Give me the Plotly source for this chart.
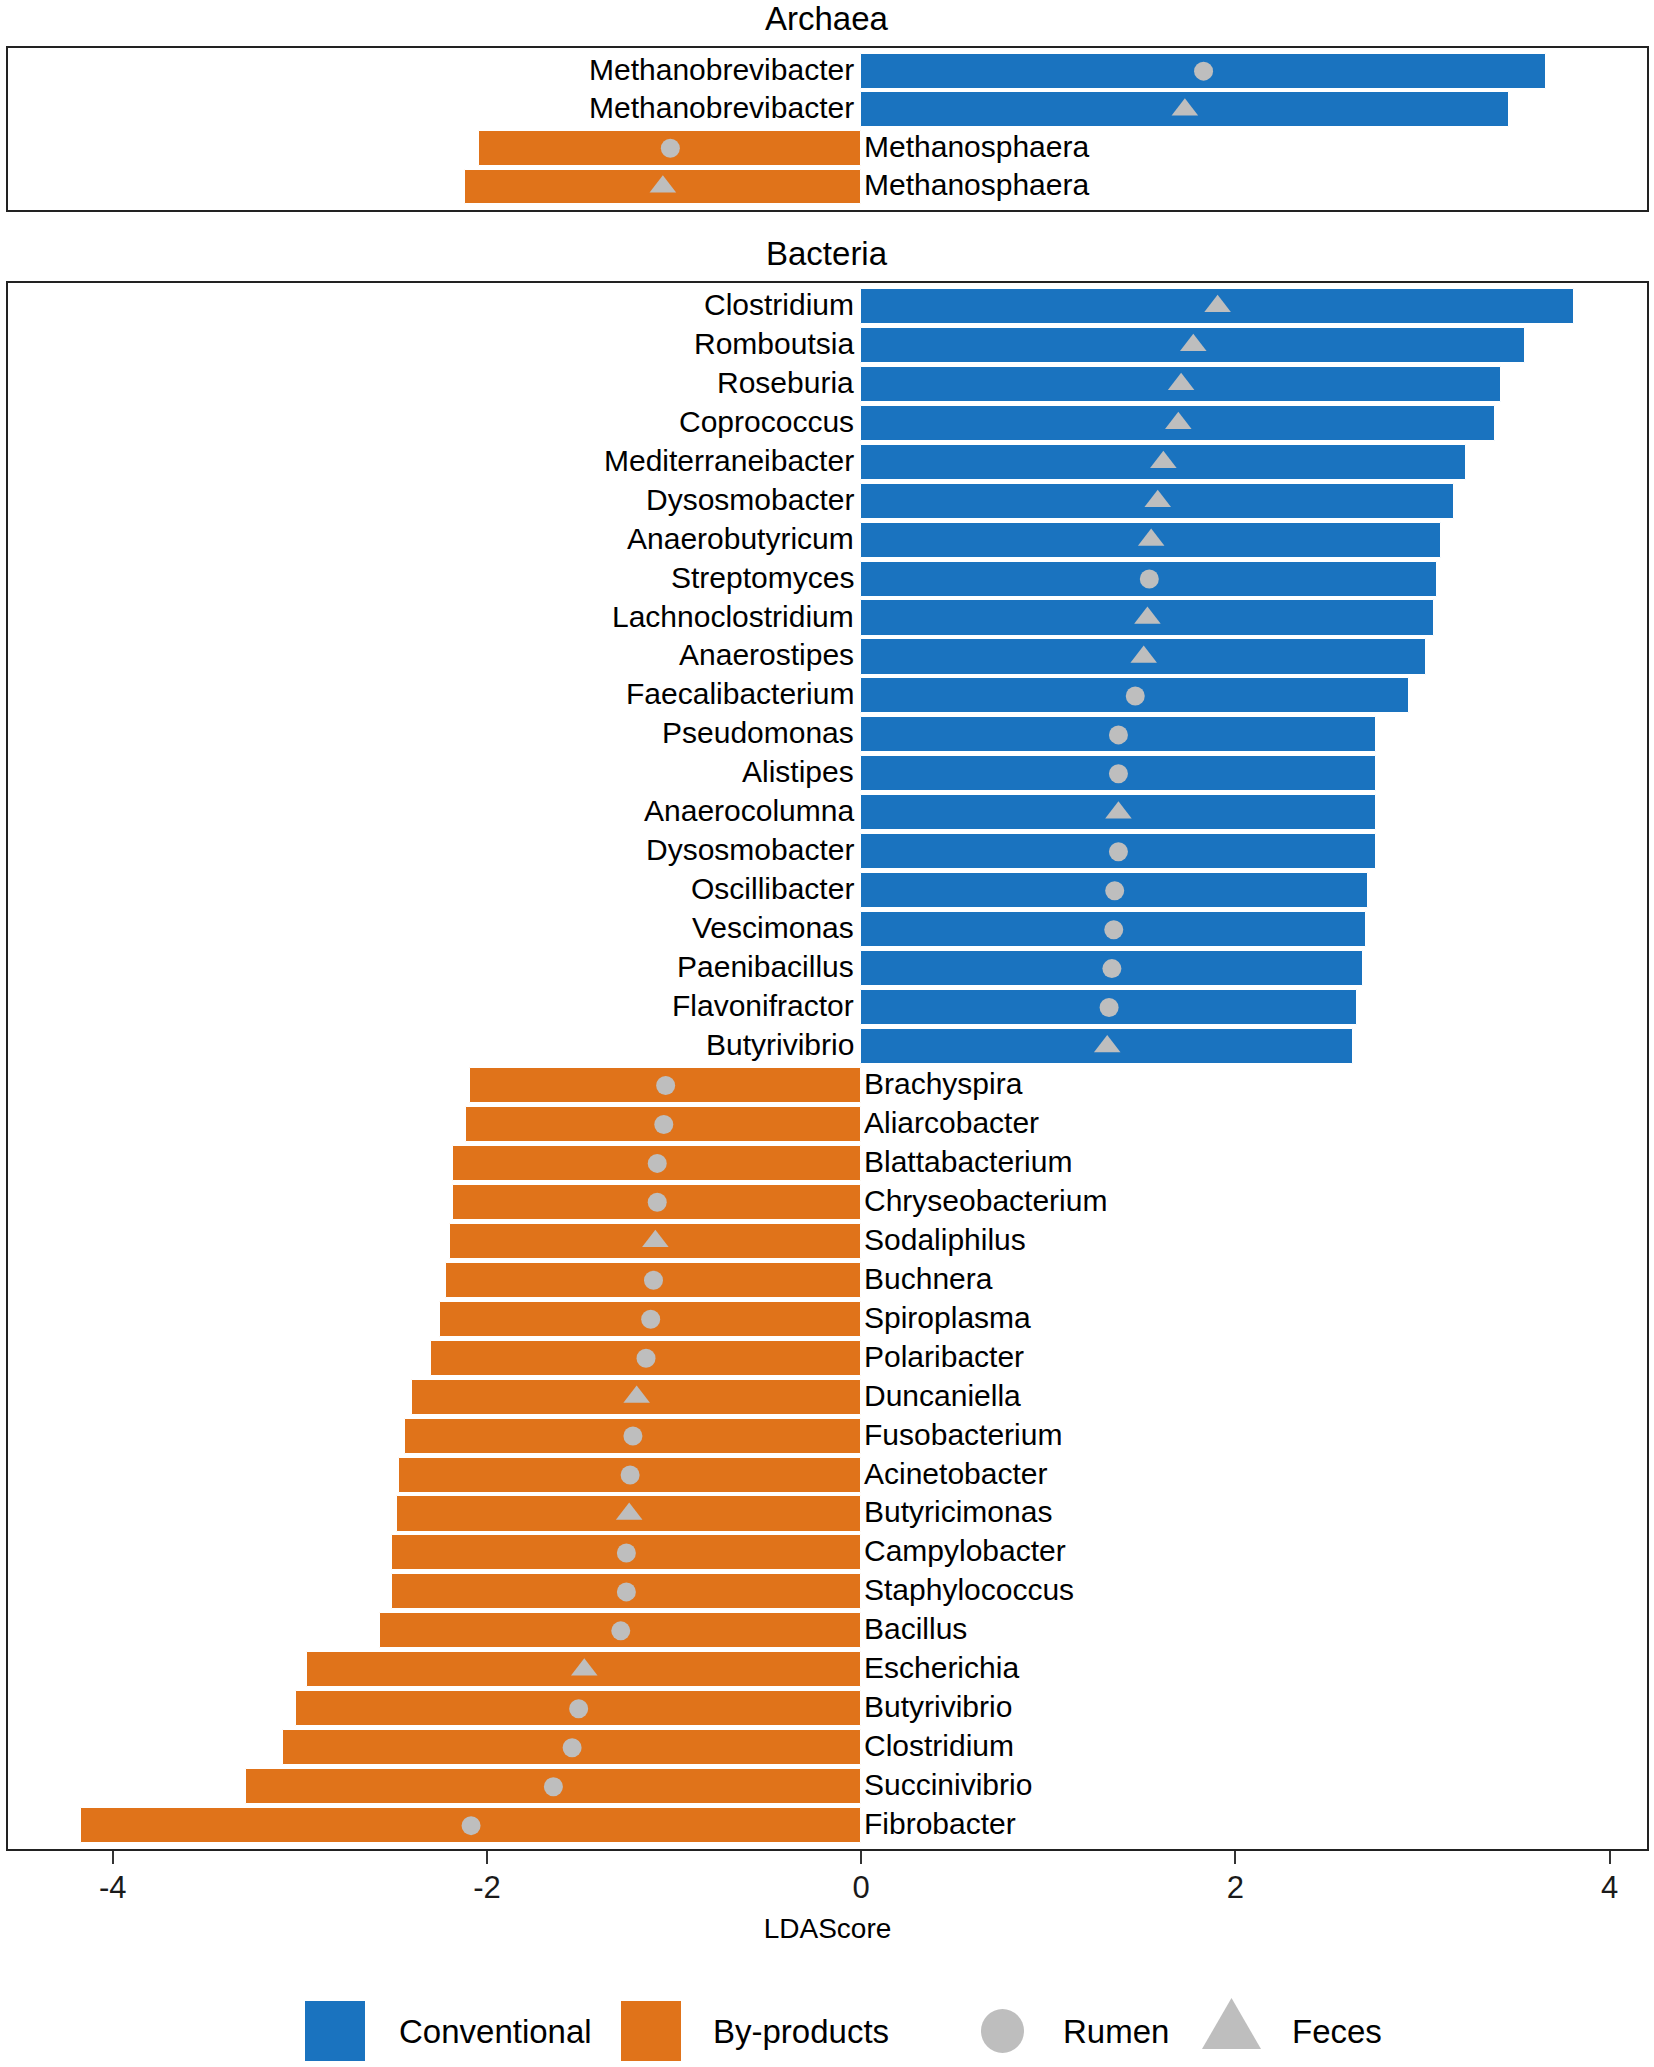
import plotly.graph_objects as go
from plotly.subplots import make_subplots

# ---- data (top to bottom within each panel) ----
archaea_genus = ["Methanobrevibacter", "Methanobrevibacter", "Methanosphaera", "Methanosphaera"]
archaea_lda = [3.66, 3.46, -2.04, -2.12]
archaea_site = ["Rumen", "Feces", "Rumen", "Feces"]

bacteria_genus = [
    "Clostridium", "Romboutsia", "Roseburia", "Coprococcus", "Mediterraneibacter",
    "Dysosmobacter", "Anaerobutyricum", "Streptomyces", "Lachnoclostridium", "Anaerostipes",
    "Faecalibacterium", "Pseudomonas", "Alistipes", "Anaerocolumna", "Dysosmobacter",
    "Oscillibacter", "Vescimonas", "Paenibacillus", "Flavonifractor", "Butyrivibrio",
    "Brachyspira", "Aliarcobacter", "Blattabacterium", "Chryseobacterium", "Sodaliphilus",
    "Buchnera", "Spiroplasma", "Polaribacter", "Duncaniella", "Fusobacterium",
    "Acinetobacter", "Butyricimonas", "Campylobacter", "Staphylococcus", "Bacillus",
    "Escherichia", "Butyrivibrio", "Clostridium", "Succinivibrio", "Fibrobacter",
]
bacteria_lda = [
    3.81, 3.55, 3.42, 3.39, 3.23, 3.17, 3.10, 3.08, 3.06, 3.02,
    2.93, 2.75, 2.75, 2.75, 2.75, 2.71, 2.70, 2.68, 2.65, 2.63,
    -2.09, -2.11, -2.18, -2.18, -2.20, -2.22, -2.25, -2.30, -2.40, -2.44,
    -2.47, -2.48, -2.51, -2.51, -2.57, -2.96, -3.02, -3.09, -3.29, -4.17,
]
bacteria_site = [
    "Feces", "Feces", "Feces", "Feces", "Feces", "Feces", "Feces", "Rumen", "Feces", "Feces",
    "Rumen", "Rumen", "Rumen", "Feces", "Rumen", "Rumen", "Rumen", "Rumen", "Rumen", "Feces",
    "Rumen", "Rumen", "Rumen", "Rumen", "Feces", "Rumen", "Rumen", "Rumen", "Feces", "Rumen",
    "Rumen", "Feces", "Rumen", "Rumen", "Rumen", "Feces", "Rumen", "Rumen", "Rumen", "Rumen",
]

tick_vals = [-4, -2, 0, 2, 4]
tick_text = ["-4", "-2", "0", "2", "4"]

diet_names = ["Conventional", "By-products"]
diet_colors = ["#1a73bf", "#e0731a"]
site_names = ["Rumen", "Feces"]
site_symbols = {"Rumen": "circle", "Feces": "triangle-up"}
site_sizes = {"Rumen": 19, "Feces": 23}
point_color = "#bebebe"

W, H = 1654, 2067
FONT = "Liberation Sans, Arial, sans-serif"


def px_x(p):
    return p / W


def px_y(p):
    return 1 - p / H


fig = make_subplots(rows=2, cols=1, shared_xaxes=False)

panels = [
    (1, archaea_genus, archaea_lda, archaea_site),
    (2, bacteria_genus, bacteria_lda, bacteria_site),
]

annotations = []
for row, genus, lda, site in panels:
    idx = list(range(len(genus)))
    colors = [diet_colors[0] if v > 0 else diet_colors[1] for v in lda]
    fig.add_trace(go.Bar(
        x=lda, y=idx, orientation="h", width=0.9,
        marker=dict(color=colors, line=dict(color="white", width=1)),
        showlegend=False, hoverinfo="skip",
    ), row=row, col=1)
    # points at the middle of each bar
    for s in site_names:
        sel = [i for i in idx if site[i] == s]
        fig.add_trace(go.Scatter(
            x=[lda[i] / 2 for i in sel], y=sel, mode="markers",
            marker=dict(symbol=site_symbols[s], size=site_sizes[s], color=point_color),
            showlegend=False, hoverinfo="skip",
        ), row=row, col=1)
    # genus labels next to the zero line
    xref = "x" if row == 1 else "x2"
    yref = "y" if row == 1 else "y2"
    for i in idx:
        right = lda[i] > 0
        annotations.append(dict(
            text=genus[i], x=0, y=i, xref=xref, yref=yref, showarrow=False,
            xanchor="right" if right else "left", yanchor="middle",
            xshift=-5 if right else 1, yshift=2,
            font=dict(size=30, color="black", family=FONT),
        ))

xr = [-4.56, 4.20]
axis_line = dict(showline=True, mirror=True, linecolor="#222222", linewidth=2,
                 showgrid=False, zeroline=False)

fig.update_xaxes(range=xr, domain=[px_x(8), px_x(1647)], **axis_line)
fig.update_xaxes(showticklabels=False, ticks="", row=1, col=1)
fig.update_xaxes(
    tickvals=tick_vals, ticktext=tick_text, ticks="outside", ticklen=13, tickwidth=2,
    tickcolor="#333333", tickfont=dict(size=31, color="#1a1a1a", family=FONT),
    ticklabelstandoff=-3,
    title=dict(text="LDAScore", font=dict(size=28, color="black", family=FONT), standoff=14),
    row=2, col=1,
)
fig.update_yaxes(showticklabels=False, ticks="", **axis_line)
fig.update_yaxes(range=[len(archaea_genus) - 0.4, -0.6],
                 domain=[px_y(210), px_y(48)], row=1, col=1)
fig.update_yaxes(range=[len(bacteria_genus) - 0.4, -0.6],
                 domain=[px_y(1849), px_y(283)], row=2, col=1)

# panel titles
for text, yc in [("Archaea", 18), ("Bacteria", 253)]:
    annotations.append(dict(
        text=text, x=px_x(827), y=px_y(yc), xref="paper", yref="paper",
        showarrow=False, xanchor="center", yanchor="middle",
        font=dict(size=33, color="black", family=FONT),
    ))

# legend drawn by hand
shapes = []
key_left = [305, 621]
for name, col, x0 in zip(diet_names, diet_colors, key_left):
    shapes.append(dict(type="rect", xref="paper", yref="paper",
                       x0=px_x(x0), x1=px_x(x0 + 60), y0=px_y(2061), y1=px_y(2001),
                       fillcolor=col, line=dict(width=0)))
shapes.append(dict(type="circle", xref="paper", yref="paper",
                   x0=px_x(981), x1=px_x(1024), y0=px_y(2053), y1=px_y(2009),
                   fillcolor=point_color, line=dict(width=0)))
tri = "M {} {} L {} {} L {} {} Z".format(
    px_x(1202), px_y(2049), px_x(1261), px_y(2049), px_x(1231.5), px_y(1998))
shapes.append(dict(type="path", xref="paper", yref="paper", path=tri,
                   fillcolor=point_color, line=dict(width=0)))

legend_labels = diet_names + site_names
legend_text_x = [397, 711, 1061, 1290]
for lab, lx in zip(legend_labels, legend_text_x):
    annotations.append(dict(
        text=lab, x=px_x(lx), y=px_y(2031), xref="paper", yref="paper",
        showarrow=False, xanchor="left", yanchor="middle",
        font=dict(size=33, color="black", family=FONT),
    ))

fig.update_layout(
    width=W, height=H,
    margin=dict(l=0, r=0, t=0, b=0),
    paper_bgcolor="white", plot_bgcolor="white",
    bargap=0, showlegend=False,
    annotations=annotations, shapes=shapes,
    font=dict(family=FONT),
)

fig.write_html(
    "out.html",
    config={"displayModeBar": False},
    post_script="document.body.style.margin='0';document.body.style.overflow='hidden';",
)
